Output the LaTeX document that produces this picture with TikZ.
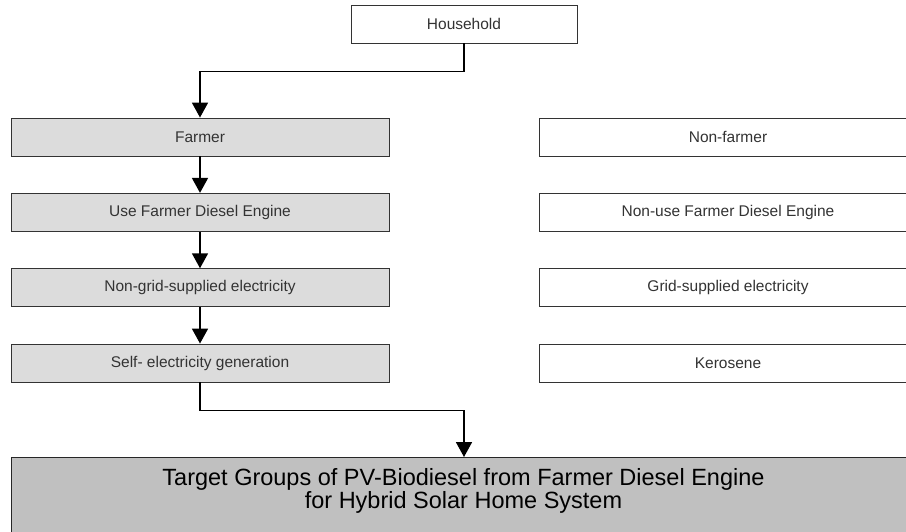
\documentclass[tikz,border=0pt]{standalone}
\usepackage{fontspec}
\setmainfont{Liberation Sans}
\usetikzlibrary{arrows.meta}
\definecolor{lightbox}{HTML}{DCDCDC}
\definecolor{darkbox}{HTML}{C0C0C0}
\definecolor{txt}{HTML}{333333}
\tikzset{
  box/.style={draw=black!80, line width=0.9pt, minimum height=38pt, inner sep=0pt, text=txt,
    font=\fontsize{15.5}{18}\selectfont},
  leftbox/.style={box, fill=lightbox, minimum width=378pt},
  rightbox/.style={box, fill=white, minimum width=378pt},
  arr/.style={line width=1.8pt, -{Triangle[length=15pt,width=16pt]}},
}
\begin{document}
\begin{tikzpicture}[x=1pt,y=1pt]
\useasboundingbox (0,0) rectangle (906,-531);
\clip (0,0) rectangle (906,-531);
\node[box, fill=white, minimum width=226pt, minimum height=38pt] (household) at (464,-24) {Household};
\node[leftbox] (farmer) at (200,-137) {Farmer};
\node[leftbox] (use) at (200,-212.3) {Use Farmer Diesel Engine};
\node[leftbox] (nongrid) at (200,-287.7) {Non-grid-supplied electricity};
\node[leftbox] (self) at (200,-363) {Self- electricity generation};
\node[rightbox] (nonfarmer) at (728,-137) {Non-farmer};
\node[rightbox] (nonuse) at (728,-212.3) {Non-use Farmer Diesel Engine};
\node[rightbox] (grid) at (728,-287.7) {Grid-supplied electricity};
\node[rightbox] (kero) at (728,-363) {Kerosene};
\node[draw=black!85, line width=1pt, fill=darkbox, minimum width=904pt, minimum height=90pt, inner sep=0pt,
  anchor=north west,
  label={[text=black, align=center, font=\fontsize{23.5}{21}\selectfont, anchor=center, yshift=12pt]
    center:{Target Groups of PV-Biodiesel from Farmer Diesel Engine\\for Hybrid Solar Home System}}]
  (target) at (11,-457) {};
\coordinate (tin) at (target.north -| household.south);
\draw[arr] (household.south) -- ++(0,-28) -| (farmer.north);
\draw[arr] (farmer) -- (use);
\draw[arr] (use) -- (nongrid);
\draw[arr] (nongrid) -- (self);
\draw[arr] (self.south) -- ++(0,-28) -| (tin);
\end{tikzpicture}
\end{document}
